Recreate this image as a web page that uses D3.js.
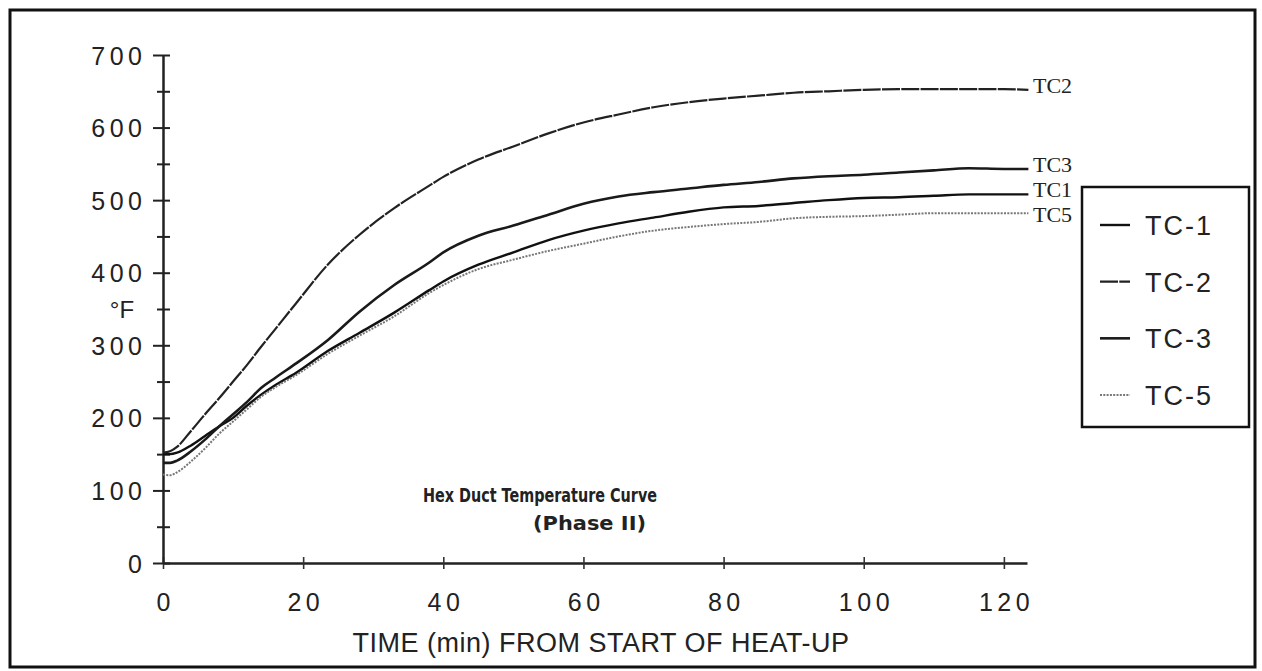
<!DOCTYPE html>
<html>
<head>
<meta charset="utf-8">
<script src="https://cdnjs.cloudflare.com/ajax/libs/d3/7.8.5/d3.min.js"></script>
<style>
  body { margin: 0; background: #fff; }
  svg { display: block; }
</style>
</head>
<body>
<div id="chart"></div>
<script>
// time in minutes
var time = [0, 1, 2, 4, 6, 8, 10, 12, 14, 16, 19, 23.5, 28, 33, 38, 40, 45, 50, 55, 60, 65, 70, 75, 80, 85, 90, 95, 100, 105, 110, 115, 120, 123.5];

// temperatures (deg F)
var tc1 = [150, 150, 152, 162, 175, 188, 200, 217, 232, 245, 262, 292, 317, 345, 376, 388, 411, 428, 445, 458, 468, 476, 484, 490, 492, 496, 500, 503, 504, 506, 508, 508, 508];
var tc2 = [152, 154, 160, 182, 205, 227, 250, 273, 298, 322, 358, 411, 452, 489, 520, 532, 556, 574, 592, 607, 618, 628, 635, 640, 644, 648, 650, 652, 653, 653, 653, 653, 652];
var tc3 = [138, 138, 141, 154, 170, 188, 205, 222, 241, 255, 275, 307, 346, 383, 414, 428, 451, 465, 480, 495, 505, 511, 516, 521, 525, 530, 533, 535, 538, 541, 544, 543, 543];
var tc5 = [122, 121, 125, 140, 158, 178, 195, 212, 229, 242, 259, 288, 313, 340, 372, 383, 405, 418, 430, 440, 450, 458, 463, 467, 470, 475, 477, 478, 480, 482, 482, 482, 482];

var legendNames = ["TC-1", "TC-2", "TC-3", "TC-5"];
var endLabels = ["TC1", "TC2", "TC3", "TC5"];
var xTicks = [0, 20, 40, 60, 80, 100, 120];

var svgWidth = 1262;
var svgHeight = 671;

var svg = d3.select("#chart")
  .append("svg")
  .attr("width", svgWidth)
  .attr("height", svgHeight);

// outer frame
svg.append("rect")
  .attr("x", 10)
  .attr("y", 10)
  .attr("width", 1245)
  .attr("height", 657)
  .attr("fill", "none")
  .attr("stroke", "#111")
  .attr("stroke-width", 3);

var xScale = d3.scaleLinear()
  .domain([0, 123.3])
  .range([163, 1027]);

var yScale = d3.scaleLinear()
  .domain([0, 700])
  .range([563, 55]);

// x axis
var xAxis = svg.append("g")
  .attr("transform", "translate(0, 563)")
  .call(d3.axisBottom(xScale).tickValues(xTicks).tickSize(0).tickSizeOuter(0).tickPadding(0));

xAxis.select(".domain").attr("stroke", "#222").attr("stroke-width", 2.5);
xAxis.selectAll(".tick line")
  .attr("y1", -6)
  .attr("y2", 6)
  .attr("stroke", "#333")
  .attr("stroke-width", 1.6);
xAxis.selectAll(".tick text")
  .attr("y", 48)
  .attr("dy", 0)
  .attr("dx", 2.2)
  .attr("fill", "#222")
  .style("font-family", "'Liberation Sans', Arial, sans-serif")
  .style("font-size", "25px")
  .style("letter-spacing", "4.5px");

// y axis, ticks every 50 crossing the line
var yAxis = svg.append("g")
  .attr("transform", "translate(163, 0)")
  .call(d3.axisLeft(yScale)
    .tickValues(d3.range(0, 701, 50))
    .tickSize(0)
    .tickSizeOuter(0)
    .tickFormat(d => d % 100 === 0 ? d : ""));

yAxis.select(".domain").attr("stroke", "#222").attr("stroke-width", 2.5);
yAxis.selectAll(".tick line")
  .attr("x1", d => d % 100 === 0 ? -10 : -6)
  .attr("x2", 7)
  .attr("stroke", "#222")
  .attr("stroke-width", 2);
yAxis.selectAll(".tick text")
  .attr("x", -16.5)
  .attr("dy", "0.36em")
  .attr("fill", "#222")
  .style("font-family", "'Liberation Sans', Arial, sans-serif")
  .style("font-size", "25px")
  .style("letter-spacing", "4.5px");

// axis titles
svg.append("text")
  .attr("x", 122)
  .attr("y", 318)
  .attr("text-anchor", "middle")
  .attr("fill", "#222")
  .style("font-family", "'Liberation Sans', Arial, sans-serif")
  .style("font-size", "24px")
  .text("°F");

svg.append("text")
  .attr("x", 601)
  .attr("y", 652)
  .attr("text-anchor", "middle")
  .attr("fill", "#222")
  .style("font-family", "'Liberation Sans', Arial, sans-serif")
  .style("font-size", "27px")
  .style("letter-spacing", "0.5px")
  .text("TIME (min) FROM START OF HEAT-UP");

// chart title inside plot
svg.append("text")
  .attr("x", 423)
  .attr("y", 502)
  .attr("textLength", 234)
  .attr("lengthAdjust", "spacingAndGlyphs")
  .attr("fill", "#222")
  .style("font-family", "'DejaVu Sans', sans-serif")
  .style("font-weight", "bold")
  .style("font-size", "20px")
  .text("Hex Duct Temperature Curve");

svg.append("text")
  .attr("x", 533)
  .attr("y", 530)
  .attr("textLength", 113)
  .attr("lengthAdjust", "spacingAndGlyphs")
  .attr("fill", "#222")
  .style("font-family", "'DejaVu Sans', sans-serif")
  .style("font-weight", "bold")
  .style("font-size", "20px")
  .text("(Phase II)");

// series
var series = [
  { name: legendNames[0], label: endLabels[0], values: tc1, color: "#111", width: 2.4, dash: null },
  { name: legendNames[1], label: endLabels[1], values: tc2, color: "#222", width: 2.2, dash: "18,1.3" },
  { name: legendNames[2], label: endLabels[2], values: tc3, color: "#1a1a1a", width: 2.6, dash: null },
  { name: legendNames[3], label: endLabels[3], values: tc5, color: "#777", width: 2, dash: "2,1.3" }
];

var line = d3.line()
  .x((d, i) => xScale(time[i]))
  .y(d => yScale(d))
  .curve(d3.curveMonotoneX);

svg.selectAll(".series")
  .data(series)
  .enter()
  .append("path")
  .classed("series", true)
  .attr("d", d => line(d.values))
  .attr("fill", "none")
  .attr("stroke", d => d.color)
  .attr("stroke-width", d => d.width)
  .attr("stroke-dasharray", d => d.dash);

// labels at the end of each curve
svg.selectAll(".endLabel")
  .data(series)
  .enter()
  .append("text")
  .classed("endLabel", true)
  .attr("x", 1033)
  .attr("y", d => yScale(d.values[d.values.length - 1]) + (d.label === "TC5" ? 9 : 3))
  .attr("fill", "#222")
  .style("font-family", "'Liberation Serif', 'Times New Roman', serif")
  .style("font-size", "22px")
  .text(d => d.label);

// legend
var legend = svg.append("g");

legend.append("rect")
  .attr("x", 1082)
  .attr("y", 187)
  .attr("width", 167)
  .attr("height", 240)
  .attr("fill", "#fff")
  .attr("stroke", "#111")
  .attr("stroke-width", 2.5);

var legendY = d3.scalePoint()
  .domain(legendNames)
  .range([225, 395]);

var items = legend.selectAll(".legendItem")
  .data(series)
  .enter()
  .append("g")
  .classed("legendItem", true)
  .attr("transform", d => `translate(0, ${legendY(d.name)})`);

items.append("line")
  .attr("x1", 1100)
  .attr("x2", 1130)
  .attr("stroke", d => d.color)
  .attr("stroke-width", d => d.width)
  .attr("stroke-dasharray", d => d.dash);

items.append("text")
  .attr("x", 1145)
  .attr("y", 10)
  .attr("fill", "#222")
  .style("font-family", "'Liberation Sans', Arial, sans-serif")
  .style("font-size", "27px")
  .style("letter-spacing", "2px")
  .text(d => d.name);
</script>
</body>
</html>
